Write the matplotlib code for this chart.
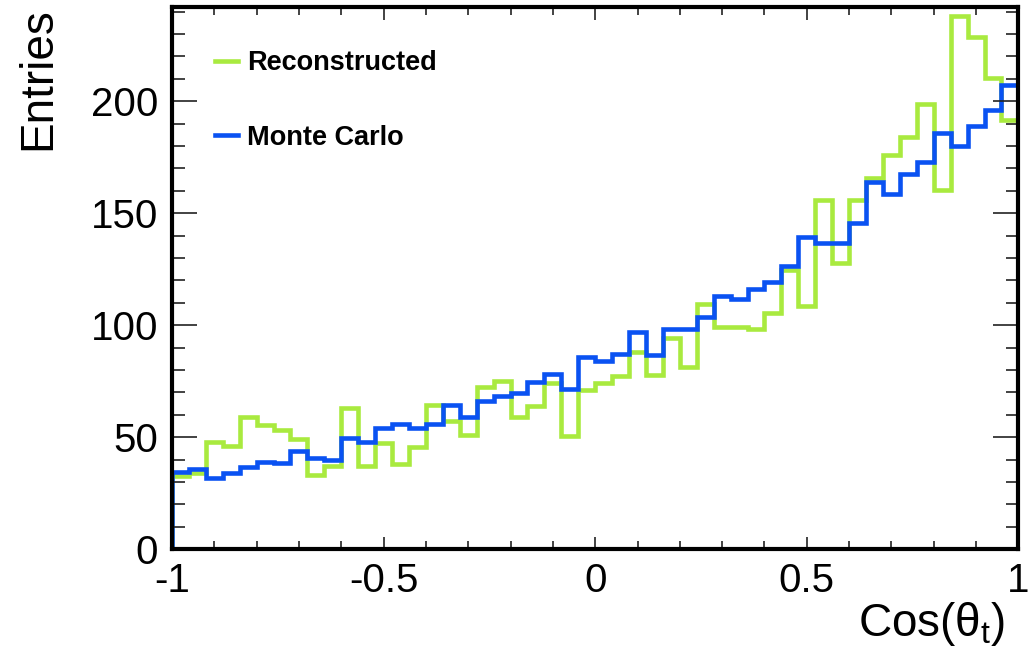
import matplotlib
import numpy as np

matplotlib.use('Agg')
from matplotlib import pyplot as plt
from matplotlib.ticker import MultipleLocator

plt.rcParams['font.family'] = ['Liberation Sans', 'DejaVu Sans']

edges = np.linspace(-1, 1, 51)

reco = [32.7, 33.9, 48.0, 46.2, 59.2, 55.5, 53.3, 49.1, 33.2, 37.2,
        62.9, 37.2, 47.3, 38.1, 45.5, 64.3, 57.4, 50.9, 72.3, 75.3,
        58.9, 64.0, 74.1, 50.6, 71.1, 74.1, 77.1, 88.2, 77.8, 94.2,
        81.5, 109.5, 99.4, 99.4, 98.2, 105.6, 124.7, 108.7, 155.9, 127.7,
        155.9, 165.6, 176.0, 184.2, 198.8, 160.4, 238.1, 228.6, 210.3, 191.6]

mc = [34.6, 35.8, 32.0, 33.9, 36.9, 39.1, 38.4, 43.9, 40.9, 39.9,
      49.5, 48.0, 54.0, 55.9, 54.0, 55.9, 64.3, 58.9, 66.2, 68.4,
      69.6, 74.5, 78.1, 71.4, 85.7, 84.0, 87.2, 97.1, 86.7, 98.5,
      98.5, 103.8, 113.2, 111.9, 116.1, 119.5, 126.4, 139.3, 136.9, 136.9,
      145.8, 164.1, 158.6, 167.5, 173.0, 186.0, 180.0, 188.9, 196.1, 207.3]

green = '#a9ea3f'
blue = '#0a52f2'

fig = plt.figure(figsize=(10.36, 6.53), dpi=100)
ax = fig.add_axes([0.166, 0.159, 0.817, 0.830])

ax.stairs(reco, edges, baseline=0, color=green, lw=3.3, label="Reconstructed")
ax.stairs(mc, edges, baseline=0, color=blue, lw=3.3, label="Monte Carlo")

ax.set_xlim(-1, 1)
ax.set_ylim(0, 242)

ax.xaxis.set_major_locator(MultipleLocator(0.5))
ax.xaxis.set_minor_locator(MultipleLocator(0.1))
ax.yaxis.set_major_locator(MultipleLocator(50))
ax.yaxis.set_minor_locator(MultipleLocator(10))
ax.set_xticks([-1, -0.5, 0, 0.5, 1], ["-1", "-0.5", "0", "0.5", "1"])

ax.tick_params(axis='both', which='both', direction='in', top=True, right=True,
               labelsize=29, width=1.2, color='#222222')
ax.tick_params(axis='y', which='major', length=18, pad=10)
ax.tick_params(axis='y', which='minor', length=9)
ax.tick_params(axis='x', which='major', length=9, pad=9)
ax.tick_params(axis='x', which='minor', length=6)
for s in ax.spines.values():
    s.set_linewidth(3)

ax.set_ylabel("Entries", fontsize=33, loc='top', labelpad=22)
ax.set_xlabel("Cos(θ$_\\mathregular{t}$)", fontsize=33, loc='right', labelpad=0)
ax.xaxis.label.set_position((0.985, 0))

leg = ax.legend(loc='upper left', bbox_to_anchor=(0.022, 0.966), frameon=False,
                prop={'weight': 'bold', 'size': 19.5}, handlelength=0.85,
                handletextpad=0.35, labelspacing=1.8)

fig.savefig("out.png", dpi=100)
